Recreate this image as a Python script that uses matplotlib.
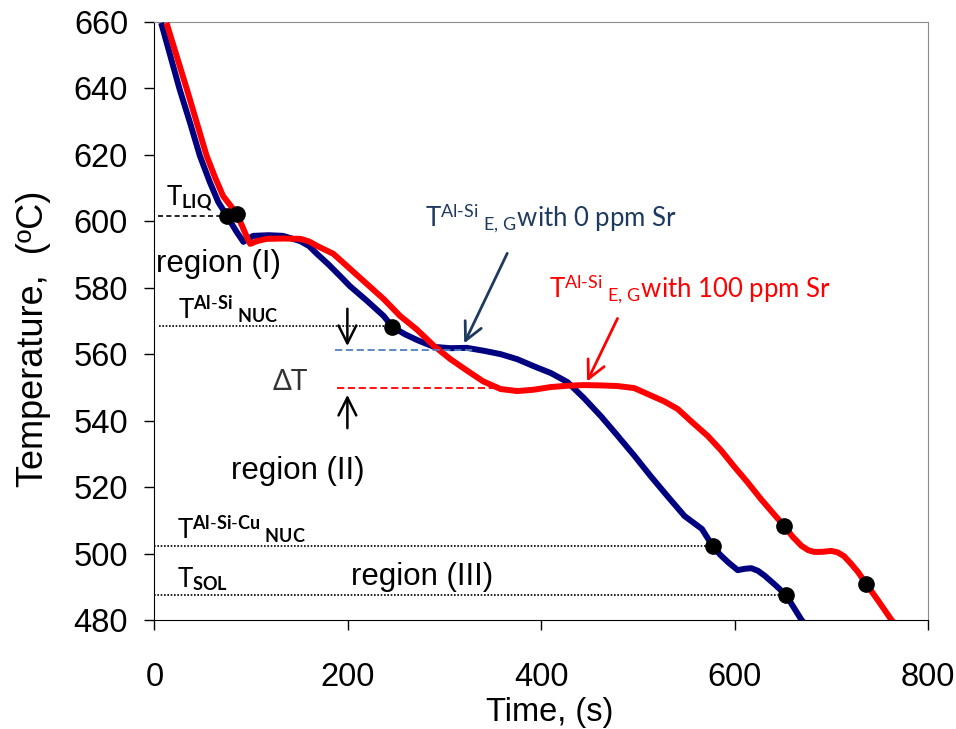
import matplotlib
matplotlib.use("Agg")
import matplotlib.pyplot as plt

# Cooling curves (time s, temperature C)
blue_t = [7, 26, 37, 47, 57, 66, 75, 85, 92, 102, 118, 133, 151, 160, 168, 180, 192, 202,
          220, 237, 246, 259, 272, 289, 306, 323, 341, 358, 375, 392, 410, 427, 444, 462,
          479, 496, 513, 530, 548, 566, 577, 585, 593, 603, 610, 617, 624, 631, 642, 653,
          669, 672]
blue_T = [659.7, 639.8, 629.5, 619.7, 612.0, 605.8, 601.6, 596.8, 593.8, 595.6, 595.8,
          595.6, 594.0, 592.5, 590.2, 587.0, 583.5, 580.5, 576.0, 571.5, 568.2, 566.0,
          564.2, 562.2, 561.8, 561.9, 561.0, 560.0, 558.5, 556.4, 554.3, 551.6, 546.8,
          541.2, 535.4, 529.5, 523.3, 517.4, 511.3, 507.4, 502.3, 499.6, 497.4, 495.0,
          495.4, 495.6, 494.8, 493.3, 490.5, 487.5, 480.0, 479.0]

red_t = [12.5, 33.5, 44, 54, 63, 71, 85.4, 95.5, 99, 107, 116, 133, 151, 160, 168, 185,
         206, 237, 254, 271, 289, 306, 323.5, 340, 351, 358, 375, 392, 409.5, 427, 444,
         462, 479, 496, 513, 527, 541, 556, 572, 586, 599, 613, 627, 640, 651, 660, 669,
         676, 682, 690, 699.5, 706, 713, 720, 727.5, 736, 749, 762, 765]
red_T = [659.7, 639.8, 629.5, 619.7, 613.0, 607.6, 602.2, 595.3, 593.2, 594.1, 594.7,
         594.8, 594.7, 593.9, 592.6, 590.2, 584.7, 576.6, 571.5, 567.5, 562.5, 558.5,
         555.0, 551.8, 550.4, 549.5, 548.9, 549.3, 550.1, 550.5, 550.7, 550.6, 550.4,
         549.8, 547.6, 545.8, 543.5, 539.5, 535.4, 531.0, 526.3, 521.5, 516.4, 512.0,
         508.3, 505.0, 502.3, 501.0, 500.5, 500.5, 500.8, 500.4, 499.2, 497.0, 494.4,
         490.8, 485.5, 480.0, 479.0]

# characteristic points (black dots)
blue_mark_t = [75, 246, 577, 653]
blue_mark_T = [601.6, 568.2, 502.3, 487.5]
red_mark_t = [85.4, 651, 736]
red_mark_T = [602.2, 508.3, 490.8]

# reference temperatures
T_liq = 601.6
T_nuc = 568.4
T_eg_0 = 561.3
T_eg_100 = 549.8
T_cu = 502.4
T_sol = 487.4

x_ticks = [0, 200, 400, 600, 800]
y_ticks = [480, 500, 520, 540, 560, 580, 600, 620, 640, 660]

plt.rcParams["mathtext.fontset"] = "custom"
plt.rcParams["mathtext.rm"] = "Lato"
plt.rcParams["mathtext.bf"] = "Lato:bold"
plt.rcParams["mathtext.it"] = "Lato:italic"

fig = plt.figure(figsize=(9.56, 7.29), dpi=100)
ax = fig.add_axes([0.1615, 0.1495, 0.8095, 0.8205])

line_kw = dict(lw=4.3, solid_capstyle="butt", solid_joinstyle="round")
ax.plot(blue_t, blue_T, color="#000080", zorder=3, **line_kw)
ax.plot(red_t, red_T, color="#FF0000", zorder=4, **line_kw)

# helper lines
ax.plot([4, 70], [T_liq, T_liq], color="black", lw=1.2, ls=(0, (3, 2)), zorder=5)
ax.plot([5, 246], [T_nuc, T_nuc], color="black", lw=1.2, ls=(0, (1, 1)), zorder=2)
ax.plot([0, 577], [T_cu, T_cu], color="black", lw=1.2, ls=(0, (1, 1)), zorder=2)
ax.plot([0, 653], [T_sol, T_sol], color="black", lw=1.2, ls=(0, (1, 1)), zorder=2)
ax.plot([187, 330], [T_eg_0, T_eg_0], color="#4F81BD", lw=1.3, ls=(0, (4, 2)), zorder=5)
ax.plot([189, 350], [T_eg_100, T_eg_100], color="#FF0000", lw=1.3, ls=(0, (4, 2)), zorder=5)

ax.plot(blue_mark_t, blue_mark_T, "o", color="black", ms=11, zorder=6)
ax.plot(red_mark_t, red_mark_T, "o", color="black", ms=11, zorder=6)

# delta T arrows
ax.annotate("", xy=(199.5, 561.6), xytext=(199.5, 574.5),
            arrowprops=dict(arrowstyle="->", color="black", lw=1.8, mutation_scale=32))
ax.annotate("", xy=(199.5, 548.6), xytext=(199.5, 536.9),
            arrowprops=dict(arrowstyle="->", color="black", lw=1.8, mutation_scale=32))
ax.text(140.5, 551.6, "\u0394T", fontsize=20, family="Lato", ha="center", va="center",
        color="#333333")

# labels of the characteristic temperatures
lab = dict(fontsize=18.5, family="Lato", ha="left", va="bottom", color="black")
ax.text(12, T_liq + 0.6, r"$\mathrm{T}_{\mathbf{LIQ}}$", **lab)
ax.text(24, T_nuc + 0.6, r"$\mathrm{T}^{\mathbf{Al\text{-}Si}}{}_{\ \mathbf{NUC}}$", **lab)
ax.text(23, T_cu + 0.6, r"$\mathrm{T}^{\mathbf{Al\text{-}Si\text{-}Cu}}{}_{\ \mathbf{NUC}}$", **lab)
ax.text(23, T_sol + 0.6, r"$\mathrm{T}_{\mathbf{SOL}}$", **lab)

reg = dict(fontsize=22.5, family="Liberation Sans", ha="center", va="center", color="black")
ax.text(66, 587, "region (I)", **reg)
ax.text(148, 524.7, "region (II)", **reg)
ax.text(277, 493, "region (III)", **reg)

ax.text(280, 598.6, r"$\mathrm{T}^{\mathrm{Al\text{-}Si}}{}_{\ \mathrm{E,\,G}}$" + "with 0 ppm Sr",
        fontsize=18.5, family="Lato", color="#1F3A5F", ha="left", va="baseline")
ax.annotate("", xy=(319, 562.5), xytext=(366, 591.1),
            arrowprops=dict(arrowstyle="->", color="#1F3A5F", lw=2, mutation_scale=32))
ax.text(407.5, 577.2, r"$\mathrm{T}^{\mathrm{Al\text{-}Si}}{}_{\ \mathrm{E,\,G}}$" + "with 100 ppm Sr",
        fontsize=18.5, family="Lato", color="#FF0000", ha="left", va="baseline")
ax.annotate("", xy=(446, 551), xytext=(480, 571.5),
            arrowprops=dict(arrowstyle="->", color="#FF0000", lw=2, mutation_scale=32))

ax.set_xlim(0, 800)
ax.set_ylim(480, 660)
ax.set_xticks(x_ticks)
ax.set_yticks(y_ticks)
ax.tick_params(axis="both", direction="out", length=7, width=1, labelsize=23.5)
ax.tick_params(axis="y", pad=12)
ax.tick_params(axis="x", pad=23)
for t in ax.get_xticklabels() + ax.get_yticklabels():
    t.set_family("Liberation Sans")

ax.set_xlabel("Time, (s)", fontsize=23.5, family="Liberation Sans", labelpad=3, x=0.511)
ax.set_ylabel("Temperature,  (\u00baC)", fontsize=26, family="Liberation Sans", labelpad=16, y=0.47)

for s in ["top", "right"]:
    ax.spines[s].set_color("#8C8C8C")
for s in ["left", "bottom"]:
    ax.spines[s].set_color("black")

fig.savefig("out.png", dpi=100)
